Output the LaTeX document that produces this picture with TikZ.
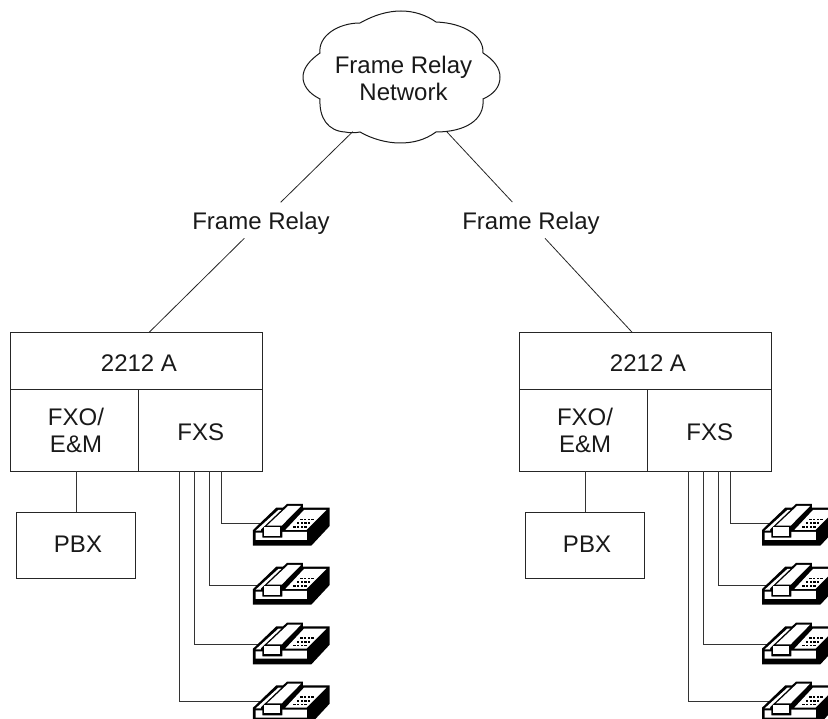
\documentclass[tikz,border=0pt]{standalone}
\usepackage{fontspec}
\setmainfont{Liberation Sans}
\newcommand{\phonedraw}{%
  \fill[black] (250,210)--(320,143)--(340,143)--(352,132)--(400,132)--(400,143)--(480,143)--(480,198)--(425,257)--(250,257)--cycle;
  \fill[white] (258,212)--(326,150)--(335,150)--(274,208)--(274,212)--cycle;
  \fill[white] (258,218)--(278,218)--(278,233)--(338,233)--(338,216)--(412,216)--(412,240)--(258,240)--cycle;
  \fill[white] (403,150)--(470,150)--(410,210)--(347,210)--cycle;
  \fill[white] (355,138)--(394,138)--(336,197)--(292,197)--cycle;
  \fill[white] (284,202)--(331,202)--(331,227)--(284,227)--cycle;
  \foreach \yy/\xa in {176/392,187/382,198/371}{
    \foreach \i in {0,1,2,3}{
      \fill[black] ({\xa+\i*11},\yy) rectangle ++(7,5);
    }
  }
}
\tikzset{
  line/.style={draw=black!85, line width=0.8pt},
  wire/.style={draw=black!80, line width=0.8pt},
  cell/.style={draw=black!85, line width=0.8pt, rectangle, inner sep=0pt, outer sep=0pt},
  label/.style={anchor=base, inner sep=0pt, outer sep=0pt, text=black!90, font=\fontsize{24}{27}\selectfont},
  phone/.pic={
    \begin{scope}[xshift=-83.33pt, yshift=44pt, x=0.3333pt, y=-0.3333pt]
      \phonedraw
    \end{scope}
  }
}
\begin{document}
\begin{tikzpicture}[x=1pt,y=-1pt]
\useasboundingbox (0,0) rectangle (828,719);
\clip (0,0) rectangle (828,719);
% cloud
\draw[line width=1pt, draw=black!90, fill=white]
  (345,132) .. controls (328,131) and (319,118) .. (320,99)
  .. controls (308,93) and (303,85) .. (303,77)
  .. controls (303,68) and (310,60) .. (320,53)
  .. controls (318,36) and (338,23) .. (360,23)
  .. controls (374,15) and (388,11) .. (401,11)
  .. controls (414,11) and (426,15) .. (436,22)
  .. controls (464,23) and (484,36) .. (483,53)
  .. controls (494,60) and (500,68) .. (500,77)
  .. controls (500,87) and (494,94) .. (483,99)
  .. controls (485,120) and (465,132) .. (436,132)
  .. controls (425,140) and (413,143) .. (400,143)
  .. controls (387,143) and (372,139) .. (360,132)
  .. controls (355,133) and (350,133) .. (345,132) -- cycle;
\node[label] (cloudtxt1) at (403.5,74) {Frame Relay};
\node[label] (cloudtxt2) at (403.5,100.7) {Network};
\coordinate (cloudL) at (352.7,131.7);
\coordinate (cloudR) at (447,132);
% link labels
\node[label] (linkL) at (261,229.3) {Frame Relay};
\node[label] (linkR) at (531,229.3) {Frame Relay};
\coordinate (linkLa) at (280.7,202.3);
\coordinate (linkLb) at (244.3,238.3);
\coordinate (linkRa) at (512.3,202);
\coordinate (linkRb) at (545,238.3);
\coordinate (topL) at (149,332.5);
\coordinate (topR) at (632.3,332.5);
\draw[line] (cloudL) -- (linkLa);
\draw[line] (linkLb) -- (topL);
\draw[line] (cloudR) -- (linkRa);
\draw[line] (linkRb) -- (topR);
% units
\foreach \s/\dx in {L/0,R/509}{
  \begin{scope}[xshift=\dx pt]
    \node[cell, minimum width=251.5pt, minimum height=56.5pt] (head\s) at (136.25,360.75) {};
    \node[label] (headtxt\s) at (139,371.7) {2212 A};
    \node[cell, minimum width=128.2pt, minimum height=82pt] (fxo\s) at (74.6,430) {};
    \node[cell, minimum width=123.3pt, minimum height=82pt] (fxs\s) at (200.35,430) {};
    \node[label] (fxotxtA\s) at (76,425.7) {FXO/};
    \node[label] (fxotxtB\s) at (76,452.7) {E\&M};
    \node[label] (fxstxt\s) at (200.8,440) {FXS};
    \node[cell, minimum width=118.3pt, minimum height=66pt] (pbx\s) at (75.85,545) {};
    \node[label] (pbxtxt\s) at (78,552.7) {PBX};
    \coordinate (stemtop\s) at (76.5,471);
    \coordinate (stembot\s) at (76.5,512);
    \draw[wire] (stemtop\s) -- (stembot\s);
    \coordinate (phA\s) at (260,523);
    \coordinate (phB\s) at (260,585);
    \coordinate (phC\s) at (260,644.5);
    \coordinate (phD\s) at (260,701.7);
    \draw[wire] (221.7,471) |- (phA\s);
    \draw[wire] (209.5,471) |- (phB\s);
    \draw[wire] (194,471) |- (phC\s);
    \draw[wire] (179,471) |- (phD\s);
    \pic at (253,504) {phone};
    \pic at (253,563) {phone};
    \pic at (253,622.7) {phone};
    \pic at (253,681.7) {phone};
  \end{scope}
}
\end{tikzpicture}
\end{document}
